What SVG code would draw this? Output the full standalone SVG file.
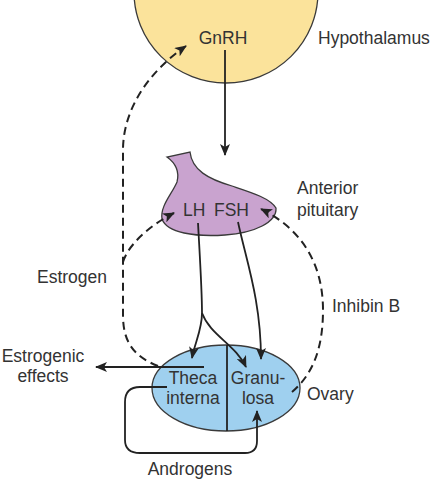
<svg xmlns="http://www.w3.org/2000/svg" width="434" height="482" viewBox="0 0 434 482">
<defs>
<style>
text{font-family:"Liberation Sans",Arial,sans-serif;font-size:17.5px;fill:#333;}
.mid{text-anchor:middle;}
.c{fill:none;stroke:#222;stroke-width:1.8;}
.d{fill:none;stroke:#222;stroke-width:2;stroke-dasharray:8 5;}
.shape{stroke:#3a3a3a;stroke-width:1.3;}
</style>
<marker id="ah" viewBox="0 0 12 10" refX="11" refY="5" markerWidth="12" markerHeight="10" markerUnits="userSpaceOnUse" orient="auto">
<path d="M0,0 L12,5 L0,10 L3,5 z" fill="#222"/>
</marker>
</defs>
<rect width="434" height="482" fill="#fff"/>
<g id="hypothalamus">
<ellipse class="shape" cx="226" cy="-8" rx="92" ry="91" fill="#fbe39b"/>
<text class="mid" x="223" y="44">GnRH</text>
<text x="318" y="44">Hypothalamus</text>
</g>
<g id="pituitary">
<path class="shape" fill="#c9a3cf" d="M167,157 C174,162 180,170 177,182 C172,194 160,206 162,219 C167,233 195,237 225,235 C255,233 277,222 276,208 C270,198 250,192 232,186 C208,179 192,170 190,152 Z"/>
<text x="183" y="216">LH</text>
<text x="214" y="216">FSH</text>
<text x="297" y="194">Anterior</text>
<text x="297" y="216">pituitary</text>
</g>
<g id="ovary">
<ellipse class="shape" cx="226" cy="388" rx="74" ry="43" fill="#9fd0ef"/>
<line x1="227" y1="345" x2="227" y2="431" stroke="#222" stroke-width="1.8"/>
<text class="mid" x="193" y="384">Theca</text>
<text class="mid" x="193" y="404">interna</text>
<text class="mid" x="258" y="384">Granu-</text>
<text class="mid" x="258" y="404">losa</text>
<text x="307" y="400">Ovary</text>
</g>
<g id="labels">
<text x="37" y="283">Estrogen</text>
<text x="332" y="312">Inhibin B</text>
<text class="mid" x="43" y="362">Estrogenic</text>
<text class="mid" x="43" y="382">effects</text>
<text class="mid" x="190" y="475">Androgens</text>
</g>
<g id="connectors">
<path class="c" d="M225,50 L225,155" marker-end="url(#ah)"/>
<path class="c" d="M198,223 C200,260 202,290 202,313 C202,330 195,342 192,358" marker-end="url(#ah)"/>
<path class="c" d="M202,313 C210,335 236,345 246,367" marker-end="url(#ah)"/>
<path class="c" d="M238,222 C246,260 261,300 261,359" marker-end="url(#ah)"/>
<path class="c" d="M204,367 L96,367" marker-end="url(#ah)"/>
<path class="c" d="M167,387 L140,387 Q125,387 125,402 L125,440 Q125,453 140,453 L245,453 Q257,453 257,441 L257,411" marker-end="url(#ah)"/>
<path class="d" d="M158,366 C132,356 123,340 123,315 L123,150 C123,110 148,72 186,46" marker-end="url(#ah)"/>
<path class="d" d="M123,262 C128,245 150,225 174,213" marker-end="url(#ah)"/>
<path class="d" d="M292,392 C312,375 323,350 323,310 C323,262 300,228 261,209" marker-end="url(#ah)"/>
</g>
</svg>
